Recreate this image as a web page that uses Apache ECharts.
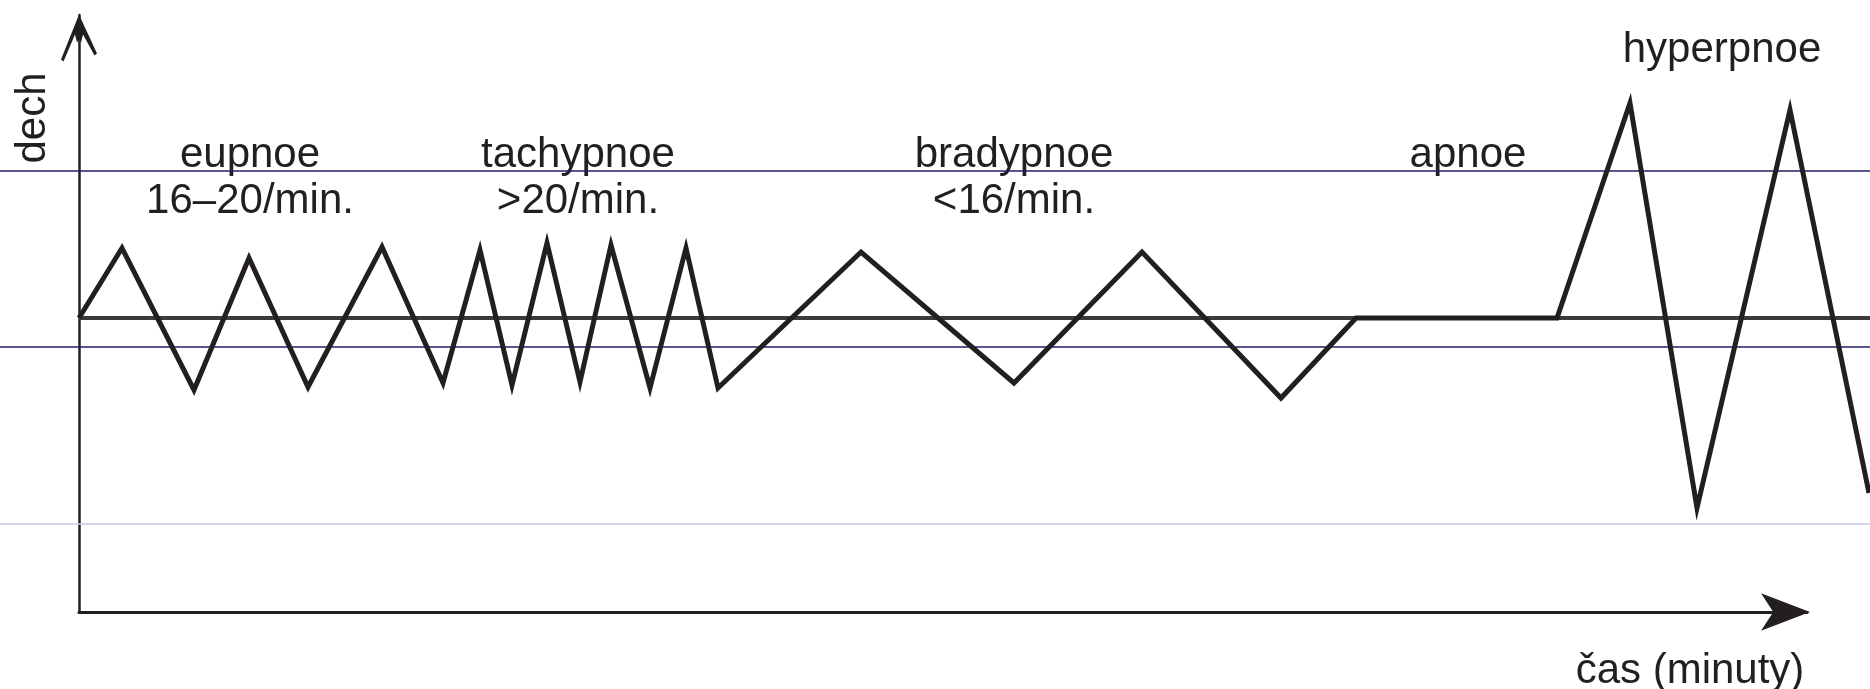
<!DOCTYPE html>
<html>
<head>
    <meta charset="utf-8">
    <title>dech - typy dýchání</title>
    <script src="https://cdn.jsdelivr.net/npm/echarts@6/dist/echarts.min.js"></script>
    <style>
        html, body { margin: 0; padding: 0; background: #fff; }
    </style>
</head>
<body>
<div id="main" style="width: 1870px;height:689px;"></div>
<script type="text/javascript">

    // time (arbitrary units from the y axis) and breath amplitude (0 = rest level)
    var breathTime  = [0, 4.3, 11.5, 17.0, 22.9, 30.3, 36.4, 40.1, 43.3, 46.8, 50.1, 53.2, 57.1, 60.7, 63.9,
                       78.2, 93.5, 106.3, 120.2, 127.7, 147.8, 155.1, 161.8, 171.1, 179.0];
    var breathLevel = [0, 7.0, -7.2, 6.0, -6.9, 7.1, -6.5, 6.8, -6.7, 7.5, -6.4, 7.3, -7.0, 7.0, -7.0,
                       6.6, -6.5, 6.6, -8.0, 0, 0, 21.5, -19.0, 20.8, -17.5];

    // rest level line
    var restTime  = [0, 179.1];
    var restLevel = [0, 0];

    // thin ruled lines across the page
    var ruleLevels = [14.7, -2.9, -20.6];

    // phase captions
    var phaseNames = ['eupnoe', 'tachypnoe', 'bradypnoe', 'apnoe', 'hyperpnoe'];
    var phaseRates = ['16–20/min.', '>20/min.', '<16/min.', '', ''];

    var yMin = -29.4, yMax = 30.3;
    var ink = '#231f20';
    var ruleColors = ['#20206a', '#20206a', '#c8c8e4'];
    var font = '42px "Liberation Sans", Arial, sans-serif';

    var myChart = echarts.init(document.getElementById('main'));

    var breathData = breathTime.map(function (t, i) { return [t, breathLevel[i]]; });
    var restData = restTime.map(function (t, i) { return [t, restLevel[i]]; });

    var hidden = { show: false };

    var series = [];
    ruleLevels.forEach(function (lv, i) {
        series.push({
            type: 'line', xAxisIndex: 0, yAxisIndex: 0, symbol: 'none', silent: true,
            lineStyle: { color: ruleColors[i], width: 1.5 },
            data: [[0, lv], [1, lv]]
        });
    });
    series.push({
        name: 'klid', type: 'line', xAxisIndex: 1, yAxisIndex: 1, symbol: 'none',
        lineStyle: { color: '#3c3a3b', width: 4 },
        data: restData
    });
    series.push({
        name: 'dech', type: 'line', xAxisIndex: 1, yAxisIndex: 1, symbol: 'none',
        lineStyle: { color: ink, width: 5, join: 'miter', miterLimit: 10 },
        data: breathData
    });

    // caption anchors (pixel centers)
    var nameX = [250, 578, 1014, 1468, 1722];
    var nameY = [155, 155, 155, 155, 50];
    var graphics = [];
    function caption(text, x, y, rot) {
        return {
            type: 'text', x: x, y: y, rotation: rot || 0,
            style: { text: text, font: font, fill: ink, align: 'center', verticalAlign: 'middle',
                     textAlign: 'center', textVerticalAlign: 'middle' }
        };
    }
    phaseNames.forEach(function (n, i) {
        graphics.push(caption(n, nameX[i], nameY[i]));
        if (phaseRates[i]) {
            graphics.push(caption(phaseRates[i], nameX[i], nameY[i] + 46));
        }
    });
    graphics.push(caption('dech', 33, 118, Math.PI / 2));
    graphics.push(caption('čas (minuty)', 1690, 671));

    var option = {
        animation: false,
        backgroundColor: '#fff',
        grid: [
            { left: 0, right: 0, top: 15, bottom: 77 },     // ruled lines
            { left: 79, right: 0, top: 15, bottom: 77 },    // curves
            { left: 79, right: 63, top: 15, bottom: 77 }    // axes with arrows
        ],
        xAxis: [
            { type: 'value', gridIndex: 0, min: 0, max: 1, show: false },
            { type: 'value', gridIndex: 1, min: 0, max: 179.1, show: false },
            {
                type: 'value', gridIndex: 2, min: 0, max: 1,
                axisLine: {
                    onZero: false,
                    symbol: ['none', 'arrow'],
                    symbolSize: [28, 49],
                    symbolOffset: [0, 3],
                    lineStyle: { color: ink, width: 3 }
                },
                axisTick: hidden, axisLabel: hidden, splitLine: hidden
            }
        ],
        yAxis: [
            { type: 'value', gridIndex: 0, min: yMin, max: yMax, show: false },
            { type: 'value', gridIndex: 1, min: yMin, max: yMax, show: false },
            {
                type: 'value', gridIndex: 2, min: yMin, max: yMax,
                axisLine: {
                    show: true,
                    onZero: false,
                    symbol: ['none', 'path://M36 0 L72 78 L67 82 L44 40 L40 56 L36 50 L32 56 L28 40 L5 94 L0 90 Z'],
                    symbolSize: [36, 47],
                    symbolOffset: [0, -23],
                    lineStyle: { color: ink, width: 2.5 }
                },
                axisTick: hidden, axisLabel: hidden, splitLine: hidden
            }
        ],
        graphic: graphics,
        series: series
    };

    myChart.setOption(option);
</script>
</body>
</html>
